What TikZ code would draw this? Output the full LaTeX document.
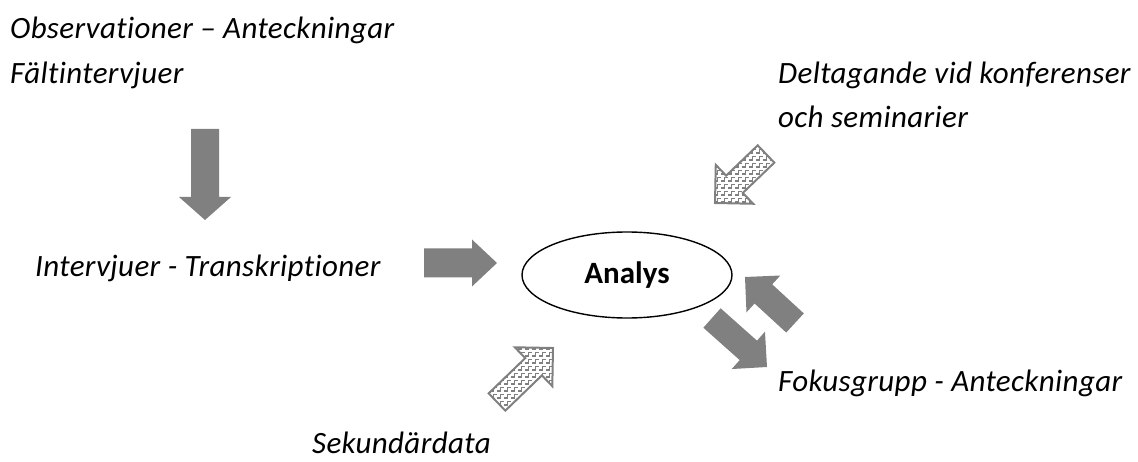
\documentclass[tikz,border=0pt]{standalone}
\usepackage{fontspec}
\setmainfont{Carlito}[Ligatures=NoCommon]
\newfontfamily\lblfont{Carlito}[Ligatures=NoCommon, LetterSpace=1.2]
\usetikzlibrary{calc,patterns,shapes.geometric}
\pgfdeclarepatternformonly{weave}{\pgfqpoint{-1pt}{-1pt}}{\pgfqpoint{8pt}{8pt}}{\pgfqpoint{7pt}{7pt}}{%
  \pgfsetlinewidth{1.3pt}%
  \pgfpathmoveto{\pgfqpoint{0pt}{1pt}}\pgfpathlineto{\pgfqpoint{3.5pt}{1pt}}\pgfpathlineto{\pgfqpoint{3.5pt}{4.5pt}}\pgfpathlineto{\pgfqpoint{7pt}{4.5pt}}%
  \pgfusepath{stroke}}
\definecolor{arrgray}{RGB}{128,128,128}
\tikzset{
  lbl/.style={font=\lblfont\fontsize{31}{37}\selectfont\itshape, anchor=west, inner sep=0pt},
  solidarr/.style={fill=arrgray},
  hatcharr/.style={pattern=weave, pattern color=arrgray, draw=arrgray, line width=2pt},
  analysis/.style={ellipse, draw, line width=1.4pt, minimum width=210pt, minimum height=86pt, font=\fontsize{31}{37}\selectfont\bfseries}
}
\newcommand\blockarr[6]{% options, tail, tip, half shaft, half head, head length
  \coordinate (#2-h) at ($(#3)!#6!(#2)$);
  \path[#1] ($(#2)!#4!90:(#3)$) -- ($(#2-h)!#4!-90:(#2)$) -- ($(#2-h)!#5!-90:(#2)$) -- (#3)
    -- ($(#2-h)!#5!90:(#2)$) -- ($(#2-h)!#4!90:(#2)$) -- ($(#2)!#4!-90:(#3)$) -- cycle;
}
\begin{document}
\begin{tikzpicture}[x=1pt,y=-1pt]
\useasboundingbox (0,0) rectangle (1138,462);
\node[lbl] (obs) at (10,30) {Observationer – Anteckningar};
\node[lbl] (falt) at (10,75) {Fältintervjuer};
\node[lbl] (intv) at (35,268) {Intervjuer - Transkriptioner};
\node[analysis] (analys) at (627,275) {Analys};
\node[lbl] (delt) at (778,75) {Deltagande vid konferenser};
\node[lbl] (sem) at (778,117) {och seminarier};
\node[lbl] (fokus) at (778,383) {Fokusgrupp - Anteckningar};
\node[lbl] (sek) at (312,443) {Sekundärdata};
% arrow anchors
\coordinate (a1t) at (205,129); \coordinate (a1h) at (205,220);
\coordinate (a2t) at (424,263); \coordinate (a2h) at (497,263);
\coordinate (a3t) at (766,154); \coordinate (a3h) at (715,203);
\coordinate (a4t) at (497,402); \coordinate (a4h) at (553,348);
\coordinate (a5t) at (795,323); \coordinate (a5h) at (745,277);
\coordinate (a6t) at (712,318); \coordinate (a6h) at (767,367);
\blockarr{solidarr}{a1t}{a1h}{14pt}{26pt}{23pt}
\blockarr{solidarr}{a2t}{a2h}{14.5pt}{23.5pt}{25pt}
\blockarr{hatcharr}{a3t}{a3h}{12pt}{27pt}{27pt}
\blockarr{hatcharr}{a4t}{a4h}{12pt}{27pt}{27pt}
\blockarr{solidarr}{a5t}{a5h}{13pt}{25pt}{25pt}
\blockarr{solidarr}{a6t}{a6h}{13pt}{25pt}{25pt}
\end{tikzpicture}
\end{document}
